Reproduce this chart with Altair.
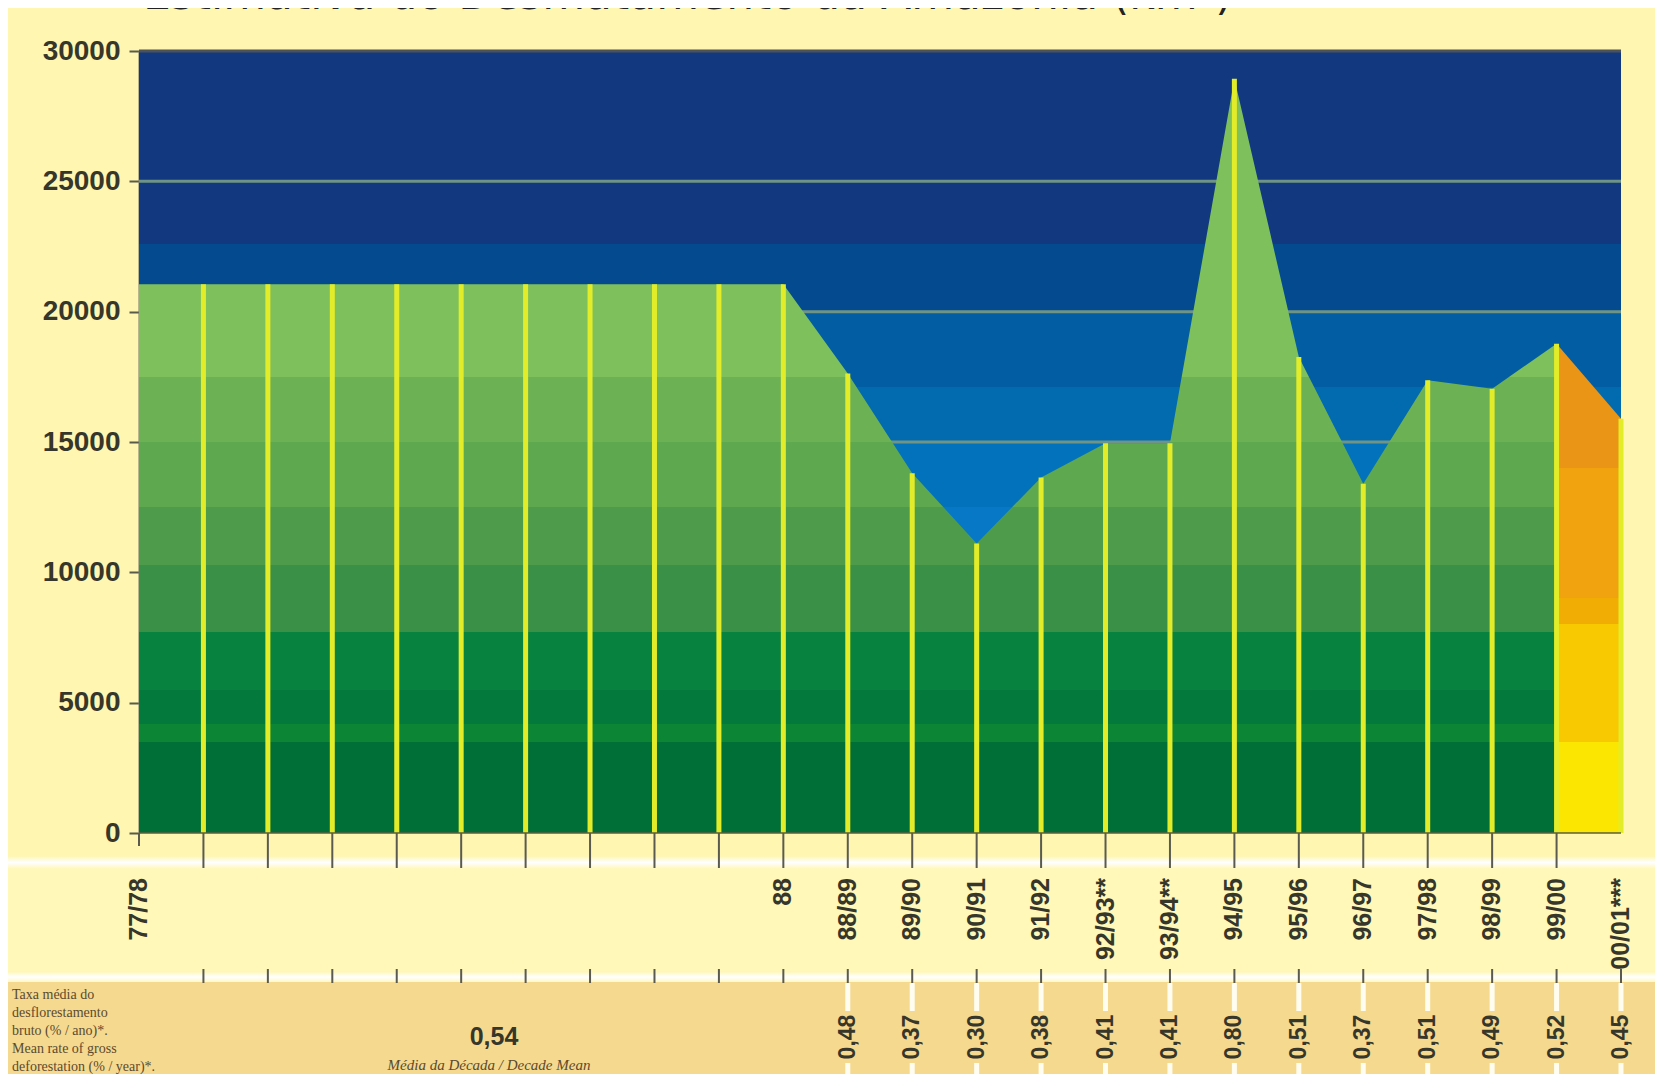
import altair as alt
import pandas as pd

# ---------------- data ----------------
labels = ["77/78", "", "", "", "", "", "", "", "", "", "88",
          "88/89", "89/90", "90/91", "91/92", "92/93**", "93/94**",
          "94/95", "95/96", "96/97", "97/98", "98/99", "99/00", "00/01***"]
km2 = [21050, 21050, 21050, 21050, 21050, 21050, 21050, 21050, 21050, 21050, 21050,
       17630, 13800, 11110, 13640, 14950, 14950,
       28940, 18260, 13400, 17365, 17045, 18770, 15890]
rates = ["", "", "", "", "", "", "", "", "", "", "",
         "0,48", "0,37", "0,30", "0,38", "0,41", "0,41",
         "0,80", "0,51", "0,37", "0,51", "0,49", "0,52", "0,45"]
decade_mean = "0,54"
decade_caption = "Média da Década / Decade Mean"
desc_lines = ["Taxa média do", "desflorestamento", "bruto (% / ano)*.",
              "Mean rate of gross", " deforestation (% / year)*."]
title_text = "Estimativa do Desmatamento da Amazônia (km²)"
y_ticks = [0, 5000, 10000, 15000, 20000, 25000, 30000]
grid_vals = [15000, 20000, 25000]

# ---------------- layout / style ----------------
W, H = 1482, 782
PAD = {"left": 131, "top": 43, "right": 34, "bottom": 241}
TXT = "#36362a"
FONT = "Liberation Sans"

df = pd.DataFrame({"pos": list(range(len(labels))), "label": labels,
                   "km2": km2, "rate": rates})
green = df[df.pos <= 22]
orange = df[df.pos >= 22]
one = pd.DataFrame({"a": [0]})

xs = alt.Scale(domain=[0, 23], nice=False, zero=False)
ys = alt.Scale(domain=[0, 30000], nice=False)
yaxis = alt.Axis(values=y_ticks, format="d", title=None, grid=False,
                 labelFont=FONT, labelFontSize=28, labelFontWeight="bold",
                 labelColor=TXT, labelPadding=9, tickColor="#5a5a4a",
                 tickSize=10, tickWidth=2, domainColor="#77776a", domainWidth=2)


def banded(spec, top):
    stops = []
    for hi, lo, col in spec:
        o1 = max(0.0, 1 - hi / top)
        o2 = min(1.0, 1 - lo / top)
        stops.append(alt.GradientStop(color=col, offset=o1))
        stops.append(alt.GradientStop(color=col, offset=o2))
    return alt.Gradient(gradient="linear", stops=stops, x1=0, x2=0, y1=0, y2=1)


blue_grad = banded([(30000, 22600, "#12387f"), (22600, 20000, "#034b8e"),
                    (20000, 17100, "#025da2"), (17100, 15000, "#026aae"),
                    (15000, 12500, "#0272bc"), (12500, 0, "#0678c6")], 30000)
gtop = max(green.km2)
green_grad = banded([(40000, 17500, "#7dc05c"), (17500, 15000, "#6db155"),
                     (15000, 12500, "#5ea850"), (12500, 10300, "#4e9c4b"),
                     (10300, 7700, "#3a9047"), (7700, 5500, "#07823f"),
                     (5500, 4200, "#037a3b"), (4200, 3500, "#0c8535"),
                     (3500, 0, "#006f37")], gtop)
otop = max(orange.km2)
orange_grad = banded([(40000, 14000, "#ea9515"), (14000, 9000, "#f0a30e"),
                      (9000, 8000, "#f2ad05"), (8000, 3500, "#f8c800"),
                      (3500, 0, "#fae600")], otop)
strip_grad = alt.Gradient(gradient="linear", x1=0, x2=0, y1=0, y2=1, stops=[
    alt.GradientStop(color="#fef6b1", offset=0),
    alt.GradientStop(color="#ffffff", offset=0.5),
    alt.GradientStop(color="#fff8b8", offset=1)])

# ---------------- plot area ----------------
bg = alt.Chart(pd.DataFrame({"x0": [0], "x1": [23], "top": [30000], "bot": [0]})).mark_rect(
    color=blue_grad).encode(
    x=alt.X("x0:Q", scale=xs, axis=None), x2="x1:Q",
    y=alt.Y("top:Q", scale=ys, axis=yaxis), y2="bot:Q")

grid = alt.Chart(pd.DataFrame({"g": grid_vals})).mark_rule(
    color="#6f9486", strokeWidth=3).encode(
    y=alt.Y("g:Q", scale=ys, axis=yaxis), x=alt.value(0), x2=alt.value(W))

top_line = alt.Chart(pd.DataFrame({"g": [30000]})).mark_rule(
    color="#4d5258", strokeWidth=3).encode(
    y=alt.Y("g:Q", scale=ys, axis=yaxis), x=alt.value(0), x2=alt.value(W))

area_g = alt.Chart(green).mark_area(color=green_grad).encode(
    x=alt.X("pos:Q", scale=xs, axis=None),
    y=alt.Y("km2:Q", scale=ys, axis=yaxis))

area_o = alt.Chart(orange).mark_area(color=orange_grad).encode(
    x=alt.X("pos:Q", scale=xs, axis=None),
    y=alt.Y("km2:Q", scale=ys, axis=yaxis))

yel = alt.Chart(df[df.pos >= 1]).mark_rule(color="#e3ec28", strokeWidth=5).encode(
    x=alt.X("pos:Q", scale=xs, axis=None),
    y=alt.Y("km2:Q", scale=ys, axis=yaxis), y2=alt.datum(0))

base_line = alt.Chart(one).mark_rule(color="#5a5e40", strokeWidth=1.5).encode(
    x=alt.value(0), x2=alt.value(W), y=alt.value(H))

# ---------------- bottom table ----------------
def band(y0, y1, fill):
    return alt.Chart(one).mark_rect(color=fill).encode(
        x=alt.value(-131), x2=alt.value(W + 34), y=alt.value(y0), y2=alt.value(y1))


strip1 = band(805, 818, strip_grad)
band1 = band(818, 920, "#fff8b8")
strip2 = band(920, 932, strip_grad)
band2 = band(931, 1040, "#f5d98e")

tick_top = alt.Chart(df[(df.pos >= 1) & (df.pos <= 22)]).mark_rule(
    color="#5a5a50", strokeWidth=2).encode(
    x=alt.X("pos:Q", scale=xs, axis=None), y=alt.value(H), y2=alt.value(817))
tick0 = alt.Chart(df[df.pos == 0]).mark_rule(color="#5a5a50", strokeWidth=2).encode(
    x=alt.X("pos:Q", scale=xs, axis=None), y=alt.value(H), y2=alt.value(795))
tick_low = alt.Chart(df[df.pos >= 1]).mark_rule(color="#5a5a50", strokeWidth=2).encode(
    x=alt.X("pos:Q", scale=xs, axis=None), y=alt.value(918), y2=alt.value(932))
white_a = alt.Chart(df[df.pos >= 11]).mark_rule(color="#fffdf0", strokeWidth=5).encode(
    x=alt.X("pos:Q", scale=xs, axis=None), y=alt.value(932), y2=alt.value(960))
white_b = alt.Chart(df[df.pos >= 11]).mark_rule(color="#fffdf0", strokeWidth=5).encode(
    x=alt.X("pos:Q", scale=xs, axis=None), y=alt.value(1012), y2=alt.value(1040))

cat_text = alt.Chart(df).mark_text(
    angle=270, align="right", baseline="middle", font=FONT, fontSize=25,
    fontWeight="bold", color=TXT).encode(
    x=alt.X("pos:Q", scale=xs, axis=None), y=alt.value(827), text="label:N")

rate_text = alt.Chart(df[df.pos >= 11]).mark_text(
    angle=270, align="center", baseline="middle", font=FONT, fontSize=23,
    fontWeight="bold", color=TXT).encode(
    x=alt.X("pos:Q", scale=xs, axis=None), y=alt.value(986), text="rate:N")


def label(text, x, y, **kw):
    return alt.Chart(pd.DataFrame({"t": [text]})).mark_text(**kw).encode(
        x=alt.value(x), y=alt.value(y), text="t:N")


mean_text = label(decade_mean, 355, 986, align="center", baseline="middle",
                  font=FONT, fontSize=25, fontWeight="bold", color=TXT)
caption = label(decade_caption, 350, 1014, align="center", baseline="middle",
                font="Liberation Serif", fontSize=15, fontStyle="italic",
                color="#5b4a2e")
desc_layers = [
    label(t, -127, 944 + i * 18, align="left", baseline="middle",
          font="Liberation Serif", fontSize=14, color="#5b4a2e")
    for i, t in enumerate(desc_lines)
]
title = label(title_text, 4, -42, align="left", baseline="alphabetic",
              font="DejaVu Sans", fontSize=44, color="#222222")

chart = alt.layer(
    strip1, band1, strip2, band2,
    bg, grid, top_line, area_g, area_o, yel, base_line,
    tick_top, tick0, tick_low, white_a, white_b,
    cat_text, rate_text, mean_text, caption, *desc_layers, title
).properties(
    width=W, height=H,
    autosize=alt.AutoSizeParams(type="none"),
    padding=PAD,
    background="#fef6b1",
).configure_view(strokeWidth=0)

chart.save("out.html", embed_options={"renderer": "svg", "actions": False})
